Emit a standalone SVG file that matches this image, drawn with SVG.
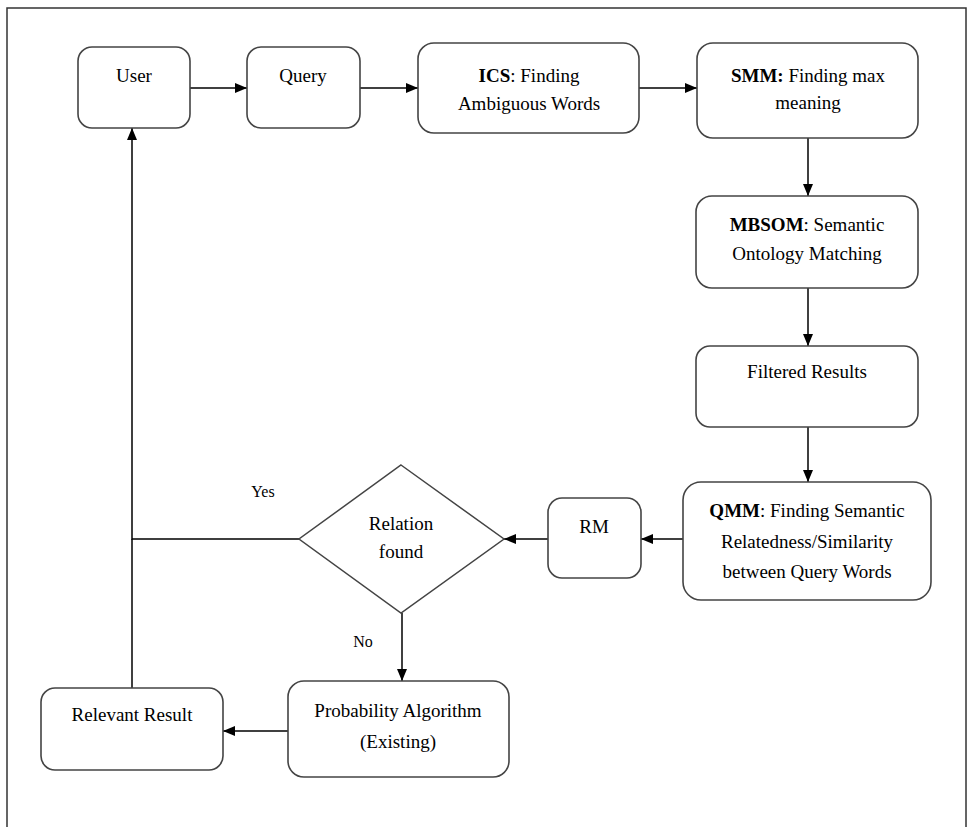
<svg xmlns="http://www.w3.org/2000/svg" width="973" height="827" viewBox="0 0 973 827">
<defs>
<marker id="ah" viewBox="0 0 12 10" refX="12" refY="5" markerWidth="12" markerHeight="10" markerUnits="userSpaceOnUse" orient="auto">
<path d="M0,0 L12,5 L0,10 z" fill="#000"/>
</marker>
<style>
.box{fill:#fff;stroke:#444;stroke-width:1.6}
.t{font-family:"Liberation Serif","Times New Roman",serif;font-size:19px;fill:#000;text-anchor:middle}
.s{font-family:"Liberation Serif","Times New Roman",serif;font-size:16px;fill:#000;text-anchor:middle}
.c{fill:none;stroke:#000;stroke-width:1.5}
</style>
</defs>
<rect x="0" y="0" width="973" height="827" fill="#fff"/>
<rect x="7" y="8" width="959" height="840" fill="none" stroke="#333" stroke-width="1.5"/>
<g id="connectors">
<line class="c" x1="190" y1="88" x2="247" y2="88" marker-end="url(#ah)"/>
<line class="c" x1="360" y1="88" x2="418" y2="88" marker-end="url(#ah)"/>
<line class="c" x1="639" y1="88" x2="697" y2="88" marker-end="url(#ah)"/>
<line class="c" x1="808" y1="138" x2="808" y2="196" marker-end="url(#ah)"/>
<line class="c" x1="808" y1="288" x2="808" y2="346" marker-end="url(#ah)"/>
<line class="c" x1="808" y1="427" x2="808" y2="482" marker-end="url(#ah)"/>
<line class="c" x1="683" y1="539" x2="641" y2="539" marker-end="url(#ah)"/>
<line class="c" x1="548" y1="539" x2="504" y2="539" marker-end="url(#ah)"/>
<polyline class="c" points="299,539 132,539 132,128" marker-end="url(#ah)"/>
<line class="c" x1="132" y1="539" x2="132" y2="688"/>
<line class="c" x1="402" y1="613" x2="402" y2="681" marker-end="url(#ah)"/>
<line class="c" x1="288" y1="731" x2="223" y2="731" marker-end="url(#ah)"/>
<text class="s" x="263" y="497">Yes</text>
<text class="s" x="363" y="647">No</text>
</g>
<g id="user">
<rect class="box" x="78" y="47" width="112" height="81" rx="14"/>
<text class="t" x="134" y="82">User</text>
</g>
<g id="query">
<rect class="box" x="247" y="47" width="113" height="81" rx="14"/>
<text class="t" x="303" y="82">Query</text>
</g>
<g id="ics">
<rect class="box" x="418" y="43" width="221" height="90" rx="16"/>
<text class="t" x="529" y="82"><tspan font-weight="bold">ICS</tspan>: Finding</text>
<text class="t" x="529" y="110">Ambiguous Words</text>
</g>
<g id="smm">
<rect class="box" x="697" y="43" width="221" height="95" rx="16"/>
<text class="t" x="808" y="82"><tspan font-weight="bold">SMM:</tspan> Finding max</text>
<text class="t" x="808" y="109">meaning</text>
</g>
<g id="mbsom">
<rect class="box" x="696" y="196" width="222" height="92" rx="16"/>
<text class="t" x="807" y="231"><tspan font-weight="bold">MBSOM</tspan>: Semantic</text>
<text class="t" x="807" y="260">Ontology Matching</text>
</g>
<g id="filtered">
<rect class="box" x="696" y="346" width="222" height="81" rx="14"/>
<text class="t" x="807" y="378">Filtered Results</text>
</g>
<g id="qmm">
<rect class="box" x="683" y="482" width="248" height="118" rx="18"/>
<text class="t" x="807" y="517"><tspan font-weight="bold">QMM</tspan>: Finding Semantic</text>
<text class="t" x="807" y="548">Relatedness/Similarity</text>
<text class="t" x="807" y="578">between Query Words</text>
</g>
<g id="rm">
<rect class="box" x="548" y="498" width="93" height="80" rx="14"/>
<text class="t" x="594" y="533">RM</text>
</g>
<g id="decision">
<polygon points="401,465 504,539 401,613 299,539" fill="#fff" stroke="#444" stroke-width="1.5"/>
<text class="t" x="401" y="530">Relation</text>
<text class="t" x="401" y="558">found</text>
</g>
<g id="probability">
<rect class="box" x="288" y="681" width="221" height="96" rx="16"/>
<text class="t" x="398" y="717">Probability Algorithm</text>
<text class="t" x="398" y="748">(Existing)</text>
</g>
<g id="relevant">
<rect class="box" x="41" y="688" width="182" height="82" rx="14"/>
<text class="t" x="132" y="721">Relevant Result</text>
</g>
</svg>
